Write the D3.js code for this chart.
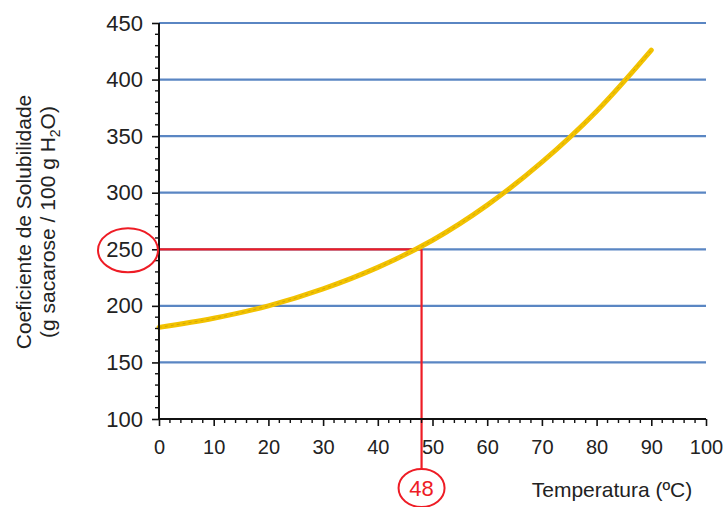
<!DOCTYPE html>
<html><head><meta charset="utf-8">
<script src="https://cdn.jsdelivr.net/npm/d3@7"></script>
<style>
html,body{margin:0;padding:0;background:#fff;}
text{font-family:"Liberation Sans",Arial,sans-serif;fill:#222;}
</style></head>
<body>
<svg id="c" width="726" height="507"></svg>
<script>
const temps = [0,10,20,30,40,50,60,70,80,90];
const solubility = [181,189,200,215,234,258,289,327,372,426];
const xTicks = [0,10,20,30,40,50,60,70,80,90,100];
const yTicks = [100,150,200,250,300,350,400,450];
const gridValues = [150,200,250,300,350,400,450];
const readValue = 250;
const readTemp = 48;
const xTitle = "Temperatura (ºC)";
const yTitle1 = "Coeficiente de Solubilidade";

const svg = d3.select("#c");
const x = d3.scaleLinear().domain([0,100]).range([159,706]);
const y = d3.scaleLinear().domain([100,450]).range([419,23]);

// gridlines
svg.append("g").selectAll("line").data(gridValues).join("line")
  .attr("x1",x(0)).attr("x2",x(100))
  .attr("y1",d=>y(d)).attr("y2",d=>y(d))
  .attr("stroke","#5a86c3").attr("stroke-width",2.2);

// red reading lines
svg.append("line").attr("x1",x(0)).attr("x2",x(readTemp))
  .attr("y1",y(readValue)).attr("y2",y(readValue))
  .attr("stroke","#ee1c25").attr("stroke-width",2.2);
svg.append("line").attr("x1",x(readTemp)).attr("x2",x(readTemp))
  .attr("y1",y(readValue)).attr("y2",470)
  .attr("stroke","#ee1c25").attr("stroke-width",2.2);

// curve
const data = temps.map((t,i)=>[t,solubility[i]]);
const line = d3.line().x(d=>x(d[0])).y(d=>y(d[1])).curve(d3.curveCatmullRom);
svg.append("path").attr("d",line(data)).attr("fill","none")
  .attr("stroke","#f2c200").attr("stroke-width",5).attr("stroke-linecap","round");
svg.append("path").attr("d",line(data)).attr("fill","none")
  .attr("stroke","#b98f10").attr("stroke-width",0.8).attr("stroke-dasharray","3,3").attr("opacity",0.7);

// axes
const xAxis = d3.axisBottom(x).tickValues(xTicks).tickSize(7).tickPadding(14).tickFormat(d3.format("d"));
const gx = svg.append("g").attr("transform",`translate(0,${y(100)})`).call(xAxis);
gx.select(".domain").attr("stroke","#111").attr("stroke-width",2).attr("d",`M${x(0)},0H${x(100)}`);
gx.selectAll(".tick line").attr("stroke","#111").attr("stroke-width",1.6);
gx.selectAll(".tick text").style("font-size","20px").attr("fill","#222").attr("font-family","Liberation Sans, Arial, sans-serif");
// minor x ticks
svg.append("g").selectAll("line").data(d3.range(0,101,2).filter(v=>v%10!==0)).join("line")
  .attr("x1",d=>x(d)).attr("x2",d=>x(d)).attr("y1",y(100)).attr("y2",y(100)+4)
  .attr("stroke","#111").attr("stroke-width",1.4);

const yAxis = d3.axisLeft(y).tickValues(yTicks).tickSize(7).tickPadding(9).tickFormat(d3.format("d"));
const gy = svg.append("g").attr("transform",`translate(${x(0)},0)`).call(yAxis);
gy.select(".domain").attr("stroke","#111").attr("stroke-width",2).attr("d",`M0,${y(100)}V${y(450)}`);
gy.selectAll(".tick line").attr("stroke","#111").attr("stroke-width",1.6);
gy.selectAll(".tick text").style("font-size","22px").attr("fill","#222").attr("font-family","Liberation Sans, Arial, sans-serif");
svg.append("g").selectAll("line").data(d3.range(100,451,10).filter(v=>v%50!==0)).join("line")
  .attr("x1",x(0)-4).attr("x2",x(0)).attr("y1",d=>y(d)).attr("y2",d=>y(d))
  .attr("stroke","#111").attr("stroke-width",1.4);

// circles
svg.append("ellipse").attr("cx",128).attr("cy",y(readValue)+1).attr("rx",30).attr("ry",22)
  .attr("fill","none").attr("stroke","#ee1c25").attr("stroke-width",2);
svg.append("ellipse").attr("cx",x(readTemp)).attr("cy",488).attr("rx",23).attr("ry",19)
  .attr("fill","#fff").attr("stroke","#ee1c25").attr("stroke-width",2);
svg.append("text").attr("x",x(readTemp)).attr("y",496).attr("text-anchor","middle")
  .style("font-size","22px").style("fill","#ee1c25").text(readTemp);

// titles
svg.append("text").attr("x",612).attr("y",497).attr("text-anchor","middle")
  .style("font-size","21px").text(xTitle);
const yt = svg.append("text").attr("transform","translate(31,222) rotate(-90)").attr("text-anchor","middle")
  .style("font-size","21px");
yt.append("tspan").attr("x",0).attr("dy",0).text(yTitle1);
const t2 = yt.append("tspan").attr("x",0).attr("dy",24);
t2.append("tspan").text("(g sacarose / 100 g H");
t2.append("tspan").attr("dy",5).style("font-size","14px").text("2");
t2.append("tspan").attr("dy",-5).text("O)");
</script>
</body></html>
